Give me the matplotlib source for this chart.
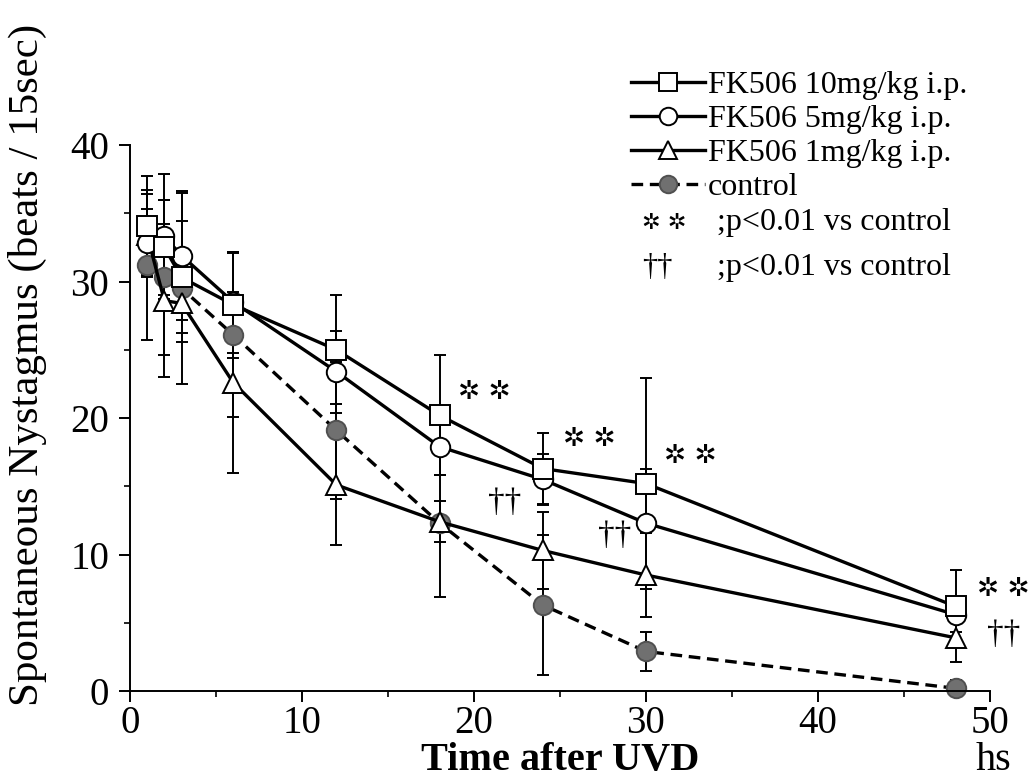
import matplotlib
matplotlib.use('Agg')
import matplotlib.pyplot as plt
import numpy as np

plt.rcParams['font.family'] = ['Liberation Serif', 'DejaVu Sans']

# time after UVD [h]
hours = [1, 2, 3, 6, 12, 18, 24, 30, 48]

# mean nystagmus beats / 15 s
fk10_mean = [34.1, 32.5, 30.3, 28.3, 25.0, 20.2, 16.3, 15.2, 6.2]
fk5_mean = [32.8, 33.3, 31.9, 28.5, 23.4, 17.9, 15.5, 12.3, 5.6]
fk1_mean = [33.4, 28.6, 28.4, 22.6, 15.1, 12.4, 10.3, 8.5, 3.9]
ctrl_mean = [31.2, 30.3, 29.5, 26.1, 19.1, 12.3, 6.3, 2.9, 0.2]

# error bars
fk10_err = [3.6, 3.5, 4.1, 3.9, 4.0, 4.4, 2.6, 7.7, 2.7]
fk5_err = [2.5, 4.6, 4.7, 3.7, 3.0, 2.1, 1.9, 4.0, 1.3]
fk1_err = [3.0, 5.6, 2.8, 6.6, 4.4, 1.5, 2.8, 3.1, 1.8]
ctrl_err = [5.5, 5.7, 7.0, 6.0, 5.0, 5.4, 5.1, 1.4, 0.6]

series_labels = ['FK506 10mg/kg i.p.', 'FK506 5mg/kg i.p.', 'FK506 1mg/kg i.p.', 'control']

# significance marks (x, y) in data units
star_marks = [(20.6, 21.9), (26.7, 18.5), (32.6, 17.2), (50.8, 7.5)]
dagger_marks = [(21.8, 13.8), (28.2, 11.4), (50.8, 4.1)]

fig = plt.figure(figsize=(10.29, 7.81), dpi=100)
ax = fig.add_axes([0.1263, 0.1152, 0.8357, 0.6991])

lw = 2.4
ms = 14
styles = [
  dict(marker='s', mfc='white', mec='black', ls='-', color='black'),
  dict(marker='o', mfc='white', mec='black', ls='-', color='black'),
  dict(marker='^', mfc='white', mec='black', ls='-', color='black'),
  dict(marker='o', mfc='#707070', mec='#505050', ls=(0, (3.5, 2)), color='black'),
]
means = [fk10_mean, fk5_mean, fk1_mean, ctrl_mean]
errs = [fk10_err, fk5_err, fk1_err, ctrl_err]

# error bars first, underneath the lines
for m, e in zip(means, errs):
  ax.errorbar(hours, m, yerr=e, fmt='none', ecolor='black', elinewidth=1.4,
              capsize=4, capthick=1.4, zorder=1, clip_on=False)

handles = []
for i, (m, st) in enumerate(zip(means, styles)):
  h, = ax.plot(hours, m, lw=lw, ms=ms, mew=1.4, label=series_labels[i],
               zorder=3 + (3 - i) * 0.1 if i < 3 else 2.5, clip_on=False, **st)
  handles.append(h)

ax.set_xlim(0, 50)
ax.set_ylim(0, 40)
ax.spines['top'].set_visible(False)
ax.spines['right'].set_visible(False)
ax.spines['left'].set_linewidth(1.4)
ax.spines['bottom'].set_linewidth(1.4)

ax.set_xticks(np.arange(0, 51, 10))
ax.set_xticks(np.arange(5, 50, 10), minor=True)
ax.set_yticks(np.arange(0, 41, 10))
ax.set_yticks(np.arange(5, 40, 10), minor=True)
ax.tick_params(axis='both', which='major', direction='out', length=8, width=1.4, labelsize=28)
ax.tick_params(axis='both', which='minor', direction='out', length=4, width=1.2)
ax.tick_params(axis='y', which='major', pad=7)
ax.tick_params(axis='x', which='major', pad=2)

ax.set_ylabel('Spontaneous Nystagmus (beats / 15sec)', fontsize=31)
ax.yaxis.set_label_coords(-0.096, 0.597)
ax.set_xlabel('Time after UVD', fontsize=29, fontweight='bold', labelpad=0)
fig.text(0.965, 0.014, 'hs', fontsize=29, ha='center', va='baseline')

for (x, y) in star_marks:
  ax.text(x, y, '✲ ✲', fontsize=19, family='DejaVu Sans', ha='center', va='center', clip_on=False)
for (x, y) in dagger_marks:
  ax.text(x, y, '††', fontsize=24, ha='center', va='center', clip_on=False)

leg = ax.legend(handles=handles, loc='upper left', bbox_to_anchor=(0.568, 1.16),
                frameon=False, fontsize=23, handlelength=2.3, handletextpad=0.1,
                labelspacing=0.15, borderaxespad=0, markerscale=0.9)

fig.text(0.624, 0.7145, '✲ ✲', fontsize=16, family='DejaVu Sans', ha='left', va='center')
fig.text(0.697, 0.7145, ';p<0.01 vs control', fontsize=23, ha='left', va='center')
fig.text(0.624, 0.658, '††', fontsize=22, ha='left', va='center')
fig.text(0.697, 0.658, ';p<0.01 vs control', fontsize=23, ha='left', va='center')

fig.savefig('out.png', dpi=100)
